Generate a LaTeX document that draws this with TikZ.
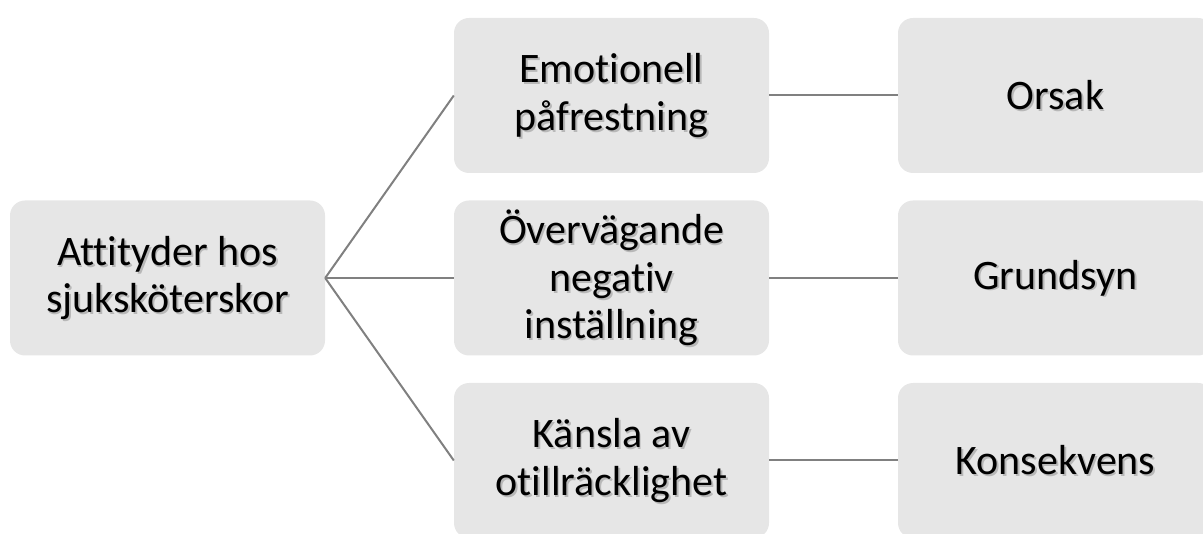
\documentclass[tikz,border=0pt]{standalone}
\usepackage{fontspec}
\setmainfont[Ligatures=NoCommon]{Carlito}
\definecolor{boxfill}{HTML}{E6E6E6}
\definecolor{linegray}{HTML}{808080}
\tikzset{
  box/.style={fill=boxfill, rounded corners=15pt, minimum width=315pt, minimum height=155pt, inner sep=0pt},
  txt/.style={align=center, text=black, font=\fontsize{42}{47.5}\selectfont},
  shd/.style={align=center, text=black!50, font=\fontsize{42}{47.5}\selectfont, opacity=0.45},
  conn/.style={draw=linegray, line width=2pt}
}
\newcommand{\bx}[3]{%
  \node[box] (#1) at #2 {};
  \node[shd] (#1s) at ($#2+(1.8,1.8)$) {#3};
  \node[txt] (#1t) at #2 {#3};
}
\usetikzlibrary{calc}
\begin{document}
\begin{tikzpicture}[x=1pt,y=-1pt]
\useasboundingbox (0,0) rectangle (1203,534);
\clip (0,0) rectangle (1203,534);
\bx{root}{(167.5,278)}{Attityder hos\\sjuksköterskor}
\bx{m1}{(611.5,95.5)}{Emotionell\\påfrestning}
\bx{m2}{(611.5,278)}{Övervägande\\negativ\\inställning}
\bx{m3}{(611.5,460.5)}{Känsla av\\otillräcklighet}
\bx{r1}{(1055.5,95.5)}{Orsak}
\bx{r2}{(1055.5,278)}{Grundsyn}
\bx{r3}{(1055.5,460.5)}{Konsekvens}
\draw[conn] (root.east) -- (m1.west);
\draw[conn] (root.east) -- (m2.west);
\draw[conn] (root.east) -- (m3.west);
\draw[conn] (m1.east) -- (r1.west);
\draw[conn] (m2.east) -- (r2.west);
\draw[conn] (m3.east) -- (r3.west);
\end{tikzpicture}
\end{document}
